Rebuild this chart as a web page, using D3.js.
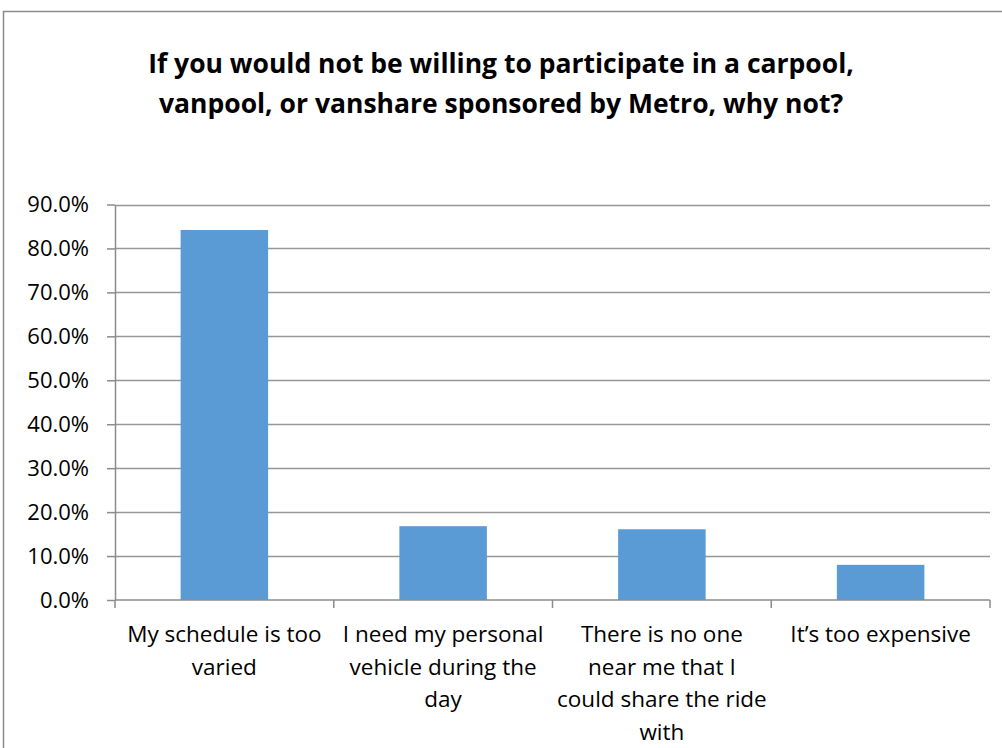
<!DOCTYPE html>
<html>
<head>
<meta charset="utf-8">
<script src="https://cdn.jsdelivr.net/npm/d3@7"></script>
<style>
    html, body { margin: 0; padding: 0; background: #fff; }
    svg { display: block; }
    text { font-family: "Open Sans", "Noto Sans", sans-serif; fill: #000; }
</style>
</head>
<body>
<div id="chart"></div>
<script>
// chart data
var titleLines = ["If you would not be willing to participate in a carpool,",
                  "vanpool, or vanshare sponsored by Metro, why not?"];
var categories = ["My schedule is too\nvaried",
                  "I need my personal\nvehicle during the\nday",
                  "There is no one\nnear me that I\ncould share the ride\nwith",
                  "It\u2019s too expensive"];
var values = [0.842, 0.168, 0.161, 0.080];
var yTicks = [0, 0.1, 0.2, 0.3, 0.4, 0.5, 0.6, 0.7, 0.8, 0.9];

(function(){

    var width = 1002, height = 748;
    var plot = {left: 115, right: 990, top: 204.5, bottom: 600};

    var svg = d3.select("#chart").append("svg")
        .attr("width", width)
        .attr("height", height);

    // chart area border (runs off the right and bottom edge)
    svg.append("rect")
        .attr("x", 3.5).attr("y", 11.5)
        .attr("width", 1010).attr("height", 760)
        .attr("fill", "none")
        .attr("stroke", "#8c8c8c")
        .attr("stroke-width", 1.5);

    // title
    svg.append("text")
        .attr("text-anchor", "middle")
        .style("font-weight", 700)
        .style("font-size", "26.5px")
        .selectAll("tspan")
        .data(titleLines)
        .join("tspan")
        .attr("x", 501)
        .attr("y", function(d, i){ return 73 + i * 40; })
        .text(function(d){ return d; });

    var y = d3.scaleLinear()
        .domain([0, 0.9])
        .range([plot.bottom, plot.top]);

    var x = d3.scaleBand()
        .domain(categories)
        .range([plot.left, plot.right])
        .paddingInner(0.6)
        .paddingOuter(0.3);

    // gridlines
    svg.append("g")
        .selectAll("line")
        .data(yTicks.slice(1))
        .join("line")
        .attr("x1", plot.left).attr("x2", plot.right)
        .attr("y1", function(d){ return Math.round(y(d)) + 0.5; })
        .attr("y2", function(d){ return Math.round(y(d)) + 0.5; })
        .attr("stroke", "#969696")
        .attr("stroke-width", 1.5);

    // bars
    svg.append("g")
        .selectAll("rect")
        .data(values)
        .join("rect")
        .attr("x", function(d, i){ return x(categories[i]); })
        .attr("y", function(d){ return y(d); })
        .attr("width", x.bandwidth())
        .attr("height", function(d){ return plot.bottom - y(d); })
        .attr("fill", "#5b9bd5");

    // y axis
    var yAxis = svg.append("g")
        .attr("transform", "translate(" + plot.left + ",0)")
        .call(d3.axisLeft(y)
            .tickValues(yTicks)
            .tickFormat(d3.format(".1%"))
            .tickSizeInner(8)
            .tickSizeOuter(0)
            .tickPadding(18));
    yAxis.selectAll("path, line").attr("stroke", "#8c8c8c").attr("stroke-width", 1.5);
    yAxis.selectAll("text")
        .style("font-size", "22px")
        .style("font-family", "'Open Sans', sans-serif")
        .attr("fill", "#000");

    // x axis: ticks between categories
    var step = x.step();
    var bounds = d3.range(categories.length + 1).map(function(i){ return plot.left + i * step; });

    svg.append("line")
        .attr("x1", plot.left).attr("x2", plot.right)
        .attr("y1", plot.bottom).attr("y2", plot.bottom)
        .attr("stroke", "#8c8c8c").attr("stroke-width", 1.5);

    svg.append("g")
        .selectAll("line")
        .data(bounds)
        .join("line")
        .attr("x1", function(d){ return d; }).attr("x2", function(d){ return d; })
        .attr("y1", plot.bottom).attr("y2", plot.bottom + 8)
        .attr("stroke", "#8c8c8c").attr("stroke-width", 1.5);

    // category labels
    svg.append("g")
        .selectAll("text")
        .data(categories)
        .join("text")
        .attr("text-anchor", "middle")
        .style("font-size", "22.5px")
        .each(function(d){
            var cx = x(d) + x.bandwidth() / 2;
            d3.select(this).selectAll("tspan")
                .data(d.split("\n"))
                .join("tspan")
                .attr("x", cx)
                .attr("y", function(t, i){ return 642 + i * 32.5; })
                .text(function(t){ return t; });
        });

})();
</script>
</body>
</html>
